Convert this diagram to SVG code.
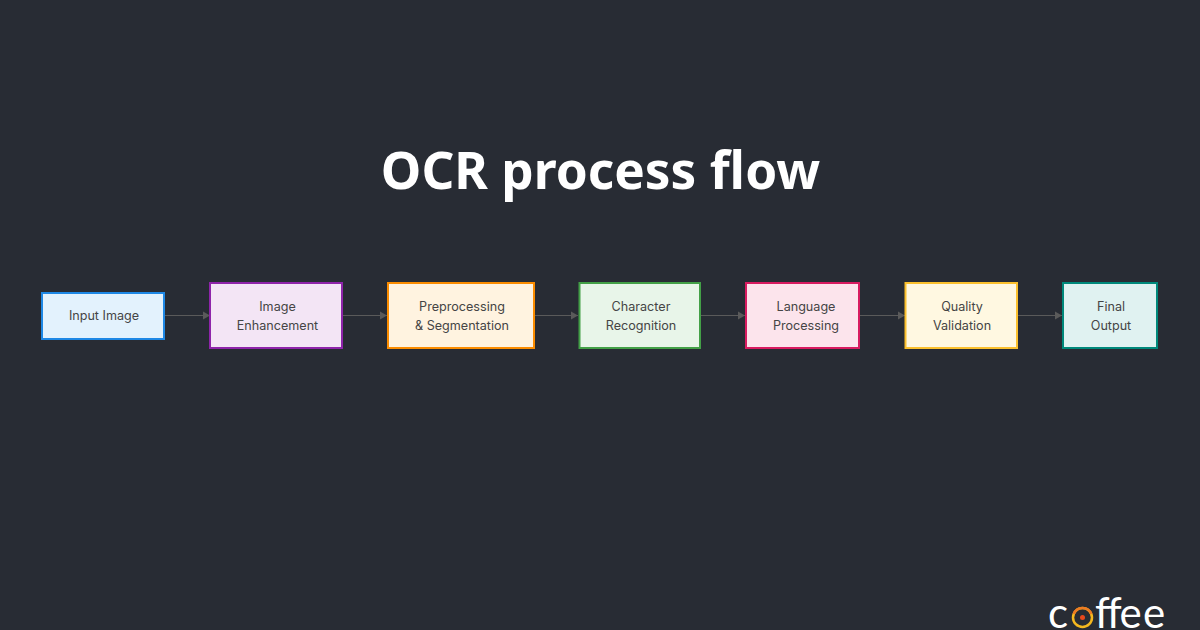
<svg xmlns="http://www.w3.org/2000/svg" width="1200" height="630" viewBox="0 0 1200 630">
<style>
.t{font-family:Inter,"Liberation Sans",sans-serif;font-size:12.6px;fill:#454545;text-anchor:middle}
.n{stroke-width:2}
.c{stroke:#5a5a5a;stroke-width:1;fill:none;marker-end:url(#a)}
.title{font-family:"Noto Sans","Open Sans",sans-serif;font-weight:700;font-size:51.3px;fill:#fff;text-anchor:middle}
.logo{font-family:Lato,"Liberation Sans",sans-serif;font-weight:400;font-size:42px;fill:#fff}
</style>
<defs>
<marker id="a" markerWidth="10" markerHeight="10" refX="8" refY="5" orient="auto" markerUnits="userSpaceOnUse"><path d="M1 1L8 5L1 9Z" fill="#5a5a5a"/></marker>
</defs>
<rect width="1200" height="630" fill="#282c34"/>
<text class="title" x="600.500" y="189">OCR process flow</text>
<g id="connectors">
<path class="c" d="M165 315.500H210"/>
<path class="c" d="M342.500 315.500H387"/>
<path class="c" d="M534.500 315.500H578"/>
<path class="c" d="M701 315.500H745"/>
<path class="c" d="M860 315.500H905"/>
<path class="c" d="M1018 315.500H1062"/>
</g>
<g id="n1"><rect class="n" x="42" y="293" width="122" height="46" fill="#e3f2fd" stroke="#1e88e5"/><text class="t" x="104" y="320">Input Image</text></g>
<g id="n2"><rect class="n" x="210" y="283" width="132" height="65" fill="#f3e5f5" stroke="#8e24aa"/><text class="t" x="277.500" y="311">Image</text><text class="t" x="277.500" y="330">Enhancement</text></g>
<g id="n3"><rect class="n" x="388" y="283" width="146" height="65" fill="#fff3e0" stroke="#fb8c00"/><text class="t" x="462" y="311">Preprocessing</text><text class="t" x="462" y="330">&amp; Segmentation</text></g>
<g id="n4"><rect class="n" x="579.500" y="283" width="120.500" height="65" fill="#e8f5e9" stroke="#43a047"/><text class="t" x="641" y="311">Character</text><text class="t" x="641" y="330">Recognition</text></g>
<g id="n5"><rect class="n" x="746" y="283" width="113" height="65" fill="#fce4ec" stroke="#d81b60"/><text class="t" x="806" y="311">Language</text><text class="t" x="806" y="330">Processing</text></g>
<g id="n6"><rect class="n" x="905.500" y="283" width="111.500" height="65" fill="#fff8e1" stroke="#fbc02d"/><text class="t" x="962" y="311">Quality</text><text class="t" x="962" y="330">Validation</text></g>
<g id="n7"><rect class="n" x="1063" y="283" width="94" height="65" fill="#e0f2f1" stroke="#00897b"/><text class="t" x="1111" y="311">Final</text><text class="t" x="1111" y="330">Output</text></g>
<g id="logo">
<text class="logo" x="1048" y="628">c</text>
<circle cx="1082.500" cy="617.500" r="9.500" fill="none" stroke="#f5b81f" stroke-width="2.500"/>
<path d="M1073.700 614A9.500 9.500 0 0 1 1091.300 614" fill="none" stroke="#ee7b22" stroke-width="2.500"/>
<circle cx="1082.500" cy="617.500" r="2.500" fill="#e8481c"/>
<text class="logo" x="1095 1107 1119.500 1143" y="628">ffee</text>
</g>
</svg>
